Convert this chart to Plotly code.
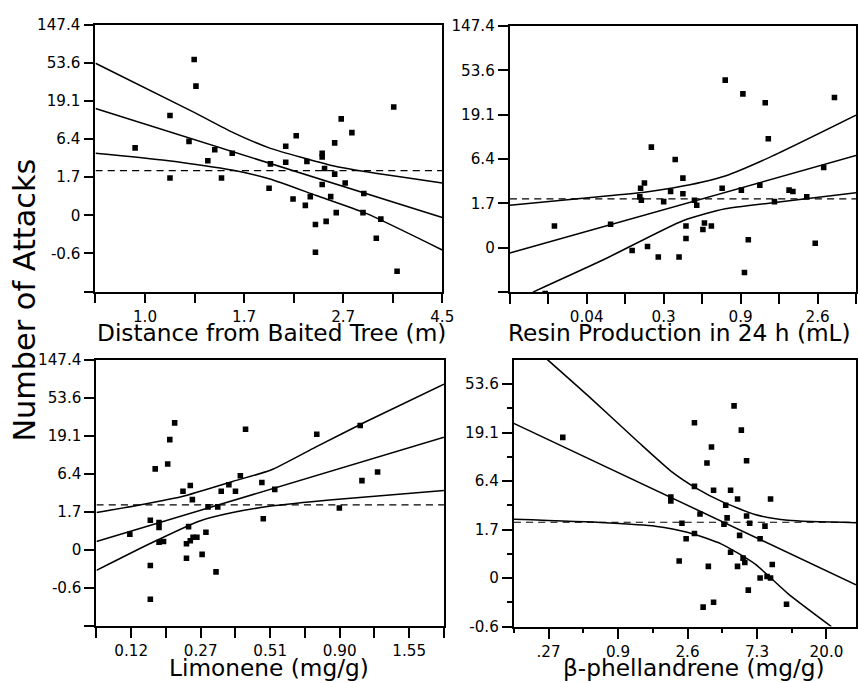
import plotly.graph_objects as go

FONT = "DejaVu Sans"

# ---------- y scale: ln(attacks + 1); tick labels are attacks ----------
y_tickvals = [-2, -1, 0, 1, 2, 3, 4, 5]
y_ticktext = ["", "-0.6", "0", "1.7", "6.4", "19.1", "53.6", "147.4"]

# ---------- Panel A: distance (x = ln distance) ----------
dist_x = [-0.05, 0.126, 0.126, 0.248, 0.257, 0.222, 0.317, 0.352, 0.386, 0.44,
          0.626, 0.633, 0.71, 0.71, 0.747, 0.763, 0.809, 0.817, 0.834, 0.86,
          0.86, 0.894, 0.894, 0.894, 0.906, 0.914, 0.937, 0.957, 0.957, 0.965,
          0.99, 1.01, 1.044, 1.104, 1.10, 1.167, 1.19, 1.255, 1.272]
dist_y = [1.77, 2.62, 0.98, 4.09, 3.39, 1.94, 1.43, 1.72, 0.98, 1.63,
          0.71, 1.35, 1.81, 1.39, 0.43, 2.09, 0.26, 1.41, 0.49, -0.24,
          -0.97, 1.63, 1.53, 0.81, 1.23, -0.16, 0.49, 1.90, 1.08, 0.07,
          2.53, 0.85, 2.17, 0.57, 0.07, -0.60, -0.10, 2.84, -1.47]
dist_fit_x = [-0.25, 1.5]
dist_fit_y = [2.80, -0.06]
dist_up_x = [-0.25, 0.248, 0.445, 0.626, 0.948, 1.116, 1.5]
dist_up_y = [3.99, 2.70, 2.17, 1.77, 1.30, 1.14, 0.85]
dist_lo_x = [-0.25, 0.109, 0.445, 0.626, 0.864, 1.116, 1.5]
dist_lo_y = [1.63, 1.44, 1.18, 0.96, 0.52, 0.05, -0.91]
dist_mean = 1.17
dist_tickvals = [-0.25, 0, 0.25, 0.5, 0.75, 1.0, 1.25, 1.5]
dist_ticktext = ["", "1.0", "", "1.7", "", "2.7", "", "4.5"]

# ---------- Panel B: resin ----------
resin_x = [0.58, 0.46, 1.31, 1.59, 1.69, 1.70, 1.71, 1.75, 1.79, 1.84,
           1.93, 2.0, 2.09, 2.15, 2.2, 2.25, 2.25, 2.29, 2.29, 2.40,
           2.43, 2.51, 2.53, 2.62, 2.76, 2.80, 3.01, 3.03, 3.05, 3.10,
           3.25, 3.32, 3.36, 3.44, 3.63, 3.68, 3.86, 3.97, 4.08, 4.22]
resin_y = [0.49, -1.03, 0.53, -0.06, 1.15, 1.34, 1.07, 1.46, 0.03, 2.27,
           -0.21, 1.04, 1.27, 1.99, -0.21, 1.57, 1.22, 0.49, 0.21, 1.07,
           0.96, 0.41, 0.56, 0.49, 1.34, 3.78, 1.30, 3.47, -0.56, 0.18,
           1.41, 3.27, 2.46, 1.04, 1.30, 1.27, 1.15, 0.10, 1.81, 3.39]
resin_fit_x = [0, 4.5]
resin_fit_y = [-0.12, 2.08]
resin_up_x = [0, 1.02, 1.75, 2.25, 2.80, 3.39, 4.5]
resin_up_y = [0.96, 1.13, 1.25, 1.39, 1.62, 2.05, 2.99]
resin_lo_x = [0.30, 1.23, 2.25, 2.80, 3.39, 4.5]
resin_lo_y = [-1.0, -0.26, 0.61, 0.88, 1.01, 1.24]
resin_mean = 1.10
resin_tickvals = [0, 0.5, 1, 1.5, 2, 2.5, 3, 3.5, 4, 4.5]
resin_ticktext = ["", "", "0.04", "", "0.3", "", "0.9", "", "2.6", ""]

# ---------- Panel C: limonene ----------
lim_x = [0.96, 1.55, 1.55, 1.55, 1.69, 1.80, 1.80, 1.80, 1.93, 2.05,
         2.11, 2.25, 2.49, 2.59, 2.59, 2.65, 2.70, 2.70, 2.76, 2.78,
         2.89, 3.04, 3.15, 3.21, 3.44, 3.49, 3.59, 3.81, 4.00, 4.14,
         4.29, 4.76, 4.80, 5.13, 6.34, 6.99, 7.59, 7.64, 8.09]
lim_y = [0.41, 0.78, -0.41, -1.30, 2.13, 0.72, 0.59, 0.20, 0.22, 2.26,
         2.90, 3.34, 1.54, 0.16, -0.22, 0.61, 1.69, 0.24, 1.32, 0.33,
         0.33, -0.12, 0.46, 1.13, -0.58, 1.13, 1.54, 1.71, 1.54, 1.95,
         3.17, 1.77, 0.82, 1.59, 3.04, 1.10, 3.27, 1.82, 2.05]
lim_fit_x = [0, 10]
lim_fit_y = [0.22, 2.96]
lim_up_x = [0, 1.24, 2.49, 3.92, 5.02, 6.32, 7.75, 10]
lim_up_y = [0.98, 1.18, 1.41, 1.80, 2.10, 2.71, 3.37, 4.36]
lim_lo_x = [0, 1.53, 2.97, 3.92, 5.02, 6.79, 10]
lim_lo_y = [-0.54, 0.16, 0.76, 0.98, 1.15, 1.32, 1.56]
lim_mean = 1.18
lim_tickvals = list(range(0, 11))
lim_ticktext = ["", "0.12", "", "0.27", "", "0.51", "", "0.90", "", "1.55", ""]

# ---------- Panel D: beta-phellandrene ----------
phel_x = [1.41, 4.52, 4.52, 4.76, 4.84, 4.96, 5.20, 5.20, 5.20, 5.36,
          5.45, 5.56, 5.60, 5.69, 5.75, 5.75, 6.05, 6.10, 6.14, 6.24,
          6.24, 6.34, 6.44, 6.44, 6.50, 6.55, 6.60, 6.65, 6.70, 6.70,
          6.75, 6.79, 7.09, 7.09, 7.23, 7.29, 7.39, 7.39, 7.44, 7.85]
phel_y = [2.90, 1.67, 1.59, 0.35, 1.13, 0.81, 3.20, 1.89, 0.92, 1.32,
          -0.60, 2.37, 0.24, 2.70, 1.81, -0.50, 1.11, 1.50, 1.24, 1.81,
          0.53, 3.55, 1.63, 0.24, 0.88, 3.05, 0.41, 0.32, 1.28, 2.42,
          -0.25, 1.13, 0.81, 0.0, 1.07, 0.03, 0.0, 1.63, 0.28, -0.54]
phel_fit_x = [0, 9.85]
phel_fit_y = [3.19, -0.14]
phel_up_x = [0.96, 2.15, 3.59, 4.55, 5.26, 5.98, 6.94, 7.89, 9.85]
phel_up_y = [4.51, 3.75, 2.80, 2.19, 1.85, 1.58, 1.31, 1.19, 1.14]
phel_lo_x = [0, 2.63, 4.07, 5.02, 5.98, 6.94, 7.89, 9.14]
phel_lo_y = [1.21, 1.14, 1.07, 0.94, 0.70, 0.29, -0.32, -1.0]
phel_mean = 1.15
phel_tickvals = [1, 3, 5, 7, 9]
phel_ticktext = [".27", "0.9", "2.6", "7.3", "20.0"]
phel_minor = [0, 2, 4, 6, 8]
phel_y_tickvals = [-1, 0, 1, 2, 3, 4]
phel_y_ticktext = ["-0.6", "0", "1.7", "6.4", "19.1", "53.6"]
phel_y_minor = [-0.5, 0.5, 1.5, 2.5, 3.5]

# ---------- geometry (reference pixel frame 858 x 683) ----------
W0, H0 = 858, 683
K = 868 / 858          # render scale
W, H = round(W0 * K), round(H0 * K)

panels = [
    ("x", "y", dist_x, dist_y, dist_fit_x, dist_fit_y, dist_up_x, dist_up_y,
     dist_lo_x, dist_lo_y, dist_mean, [-0.25, 1.5]),
    ("x2", "y2", resin_x, resin_y, resin_fit_x, resin_fit_y, resin_up_x, resin_up_y,
     resin_lo_x, resin_lo_y, resin_mean, [0, 4.5]),
    ("x3", "y3", lim_x, lim_y, lim_fit_x, lim_fit_y, lim_up_x, lim_up_y,
     lim_lo_x, lim_lo_y, lim_mean, [0, 10]),
    ("x4", "y4", phel_x, phel_y, phel_fit_x, phel_fit_y, phel_up_x, phel_up_y,
     phel_lo_x, phel_lo_y, phel_mean, [0, 9.85]),
]

fig = go.Figure()
for xa, ya, px, py, fx, fy, ux, uy, lx, ly, mean, xr in panels:
    fig.add_trace(go.Scatter(x=xr, y=[mean, mean], xaxis=xa, yaxis=ya, mode="lines",
                             line=dict(color="black", width=1.2 * K,
                                       dash=f"{7 * K:.1f}px,{5 * K:.1f}px"),
                             hoverinfo="skip"))
    fig.add_trace(go.Scatter(x=fx, y=fy, xaxis=xa, yaxis=ya, mode="lines",
                             line=dict(color="black", width=1.5 * K)))
    fig.add_trace(go.Scatter(x=ux, y=uy, xaxis=xa, yaxis=ya, mode="lines",
                             line=dict(color="black", width=1.5 * K, shape="spline", smoothing=0.6)))
    fig.add_trace(go.Scatter(x=lx, y=ly, xaxis=xa, yaxis=ya, mode="lines",
                             line=dict(color="black", width=1.5 * K, shape="spline", smoothing=0.6)))
    fig.add_trace(go.Scatter(x=px, y=py, xaxis=xa, yaxis=ya, mode="markers",
                             marker=dict(symbol="square", size=5.5 * K, color="black")))


def xd(a, b):
    return [a / W0, b / W0]


def yd(top, bottom):
    return [1 - bottom / H0, 1 - top / H0]


axis_common = dict(showline=True, linecolor="black", linewidth=1.7 * K, mirror=True,
                   ticks="outside", ticklen=10 * K, tickwidth=1.5 * K, tickcolor="black",
                   showgrid=False, zeroline=False,
                   tickfont=dict(family=FONT, size=15 * K, color="black"))
minor_common = dict(ticks="outside", ticklen=5 * K, tickwidth=1.5 * K,
                    tickcolor="black", showgrid=False)

fig.update_layout(
    width=W, height=H, autosize=False, margin=dict(l=0, r=0, t=0, b=0),
    paper_bgcolor="white", plot_bgcolor="white", showlegend=False,
    xaxis=dict(domain=xd(95.7, 443.3), range=[-0.25, 1.5], anchor="y",
               tickmode="array", tickvals=dist_tickvals, ticktext=dist_ticktext, **axis_common),
    yaxis=dict(domain=yd(16, 286.7), range=[-2, 5], anchor="x",
               tickmode="array", tickvals=y_tickvals, ticktext=y_ticktext, **axis_common),
    xaxis2=dict(domain=xd(511, 858), range=[0, 4.5], anchor="y2",
                tickmode="array", tickvals=resin_tickvals, ticktext=resin_ticktext, **axis_common),
    yaxis2=dict(domain=yd(17.3, 287.3), range=[-1, 5], anchor="x2",
                tickmode="array", tickvals=y_tickvals[1:], ticktext=[""] + y_ticktext[2:], **axis_common),
    xaxis3=dict(domain=xd(96.7, 445), range=[0, 10], anchor="y3",
                tickmode="array", tickvals=lim_tickvals, ticktext=lim_ticktext, **axis_common),
    yaxis3=dict(domain=yd(356, 626), range=[-2, 5], anchor="x3",
                tickmode="array", tickvals=y_tickvals, ticktext=y_ticktext, **axis_common),
    xaxis4=dict(domain=xd(515, 858), range=[0, 9.85], anchor="y4",
                tickmode="array", tickvals=phel_tickvals, ticktext=phel_ticktext,
                minor=dict(tickvals=phel_minor, **minor_common), **axis_common),
    yaxis4=dict(domain=yd(356, 626.7), range=[-1, 4.5], anchor="x4",
                tickmode="array", tickvals=phel_y_tickvals, ticktext=phel_y_ticktext,
                minor=dict(tickvals=phel_y_minor, **minor_common), **axis_common),
)

titles = [
    ("Distance from Baited Tree (m)", 272, 328),
    ("Resin Production in 24 h (mL)", 681, 328),
    ("Limonene (mg/g)", 270, 668),
    ("β-phellandrene (mg/g)", 696, 668),
]
for text, cx, cy in titles:
    fig.add_annotation(text=text, x=cx / W0, y=1 - cy / H0, xref="paper", yref="paper",
                       xanchor="center", yanchor="middle", showarrow=False,
                       font=dict(family=FONT, size=23 * K, color="black"))

fig.add_annotation(text="Number of Attacks", x=25 / W0, y=1 - 295 / H0, xref="paper", yref="paper",
                   xanchor="center", yanchor="middle", showarrow=False, textangle=-90,
                   font=dict(family=FONT, size=30 * K, color="black"))

fig.write_html("out.html")
